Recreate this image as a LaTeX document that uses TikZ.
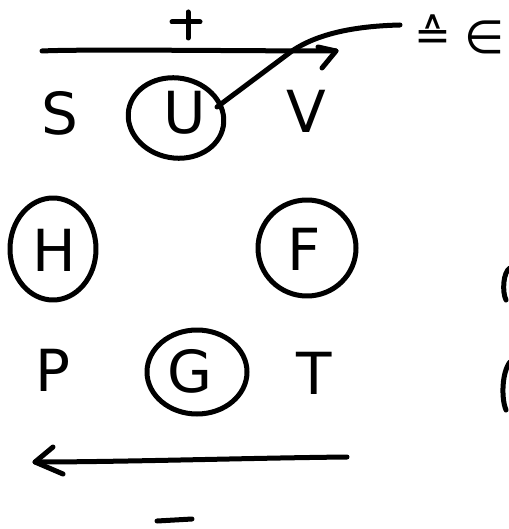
\documentclass[tikz,border=0pt]{standalone}
\usepackage{fontspec}
\setmainfont{DejaVu Sans}
\usetikzlibrary{shapes.geometric}
\begin{document}
\begin{tikzpicture}[x=1pt,y=-1pt,
  pen/.style={line width=5pt,line cap=round,line join=round},
  letter/.style={inner sep=0pt,font=\fontsize{58}{58}\selectfont},
  ring/.style={pen,draw,ellipse,inner sep=0pt}]
\useasboundingbox (0,0) rectangle (508,529);
% letters
\node[letter] (S) at (60,113) {S};
\node[letter] (U) at (185,113) {U};
\node[letter] (V) at (306,111) {V};
\node[letter] (H) at (54,250) {H};
\node[letter] (F) at (304,249) {F};
\node[letter] (P) at (53,370) {P};
\node[letter] (G) at (190,371) {G};
\node[letter] (T) at (314,373) {T};
% rings
\node[ring,minimum width=96pt,minimum height=80pt,rotate=-10] (Ur) at (176,118) {};
\node[ring,minimum width=86pt,minimum height=102pt] (Hr) at (53,249) {};
\node[ring,minimum width=98pt,minimum height=96pt] (Fr) at (307,248) {};
\node[ring,minimum width=100pt,minimum height=84pt] (Gr) at (197,372) {};
% plus sign
\draw[pen] (188,12) -- (188,38);
\draw[pen] (172,22) -- (200,22);
% top arrow
\coordinate (tl) at (42,51);
\coordinate (tr) at (336,51);
\draw[pen] (tl) .. controls (80,49) and (250,51) .. (tr);
\draw[pen] (318,47) -- (tr) -- (322,68);
% curve from U to the note
\coordinate (note) at (400,25);
\draw[pen] (U.center) ++(32,-6) -- (292,51) .. controls (320,32) and (360,26) .. (note);
\node[inner sep=0pt,font=\fontsize{44}{44}\selectfont] (eq) at (433,33) {≙};
\node[inner sep=0pt,font=\fontsize{46}{46}\selectfont] (E) at (485,37) {∈};
% bottom arrow
\coordinate (br) at (347,457);
\coordinate (bl) at (35,462);
\draw[pen] (br) .. controls (250,458) and (120,462) .. (bl);
\draw[pen] (53,447) -- (bl) -- (63,474);
% minus
\draw[pen] (157,521) -- (192,519);
% cut-off shapes at right edge
\draw[pen] (510,268) .. controls (503,272) and (502,292) .. (506,300);
\draw[pen] (510,362) .. controls (502,372) and (501,398) .. (506,410);
\end{tikzpicture}
\end{document}
